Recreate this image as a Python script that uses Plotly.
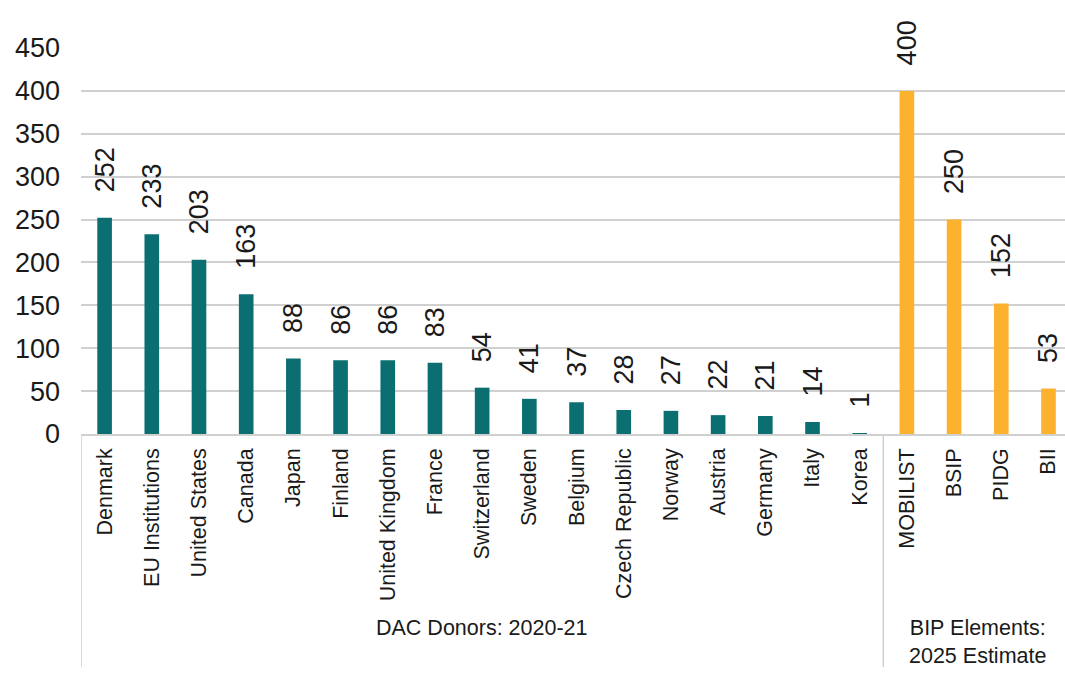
import plotly.graph_objects as go

categories = ["Denmark", "EU Institutions", "United States", "Canada", "Japan", "Finland",
              "United Kingdom", "France", "Switzerland", "Sweden", "Belgium", "Czech Republic",
              "Norway", "Austria", "Germany", "Italy", "Korea",
              "MOBILIST", "BSIP", "PIDG", "BII"]
values = [252, 233, 203, 163, 88, 86, 86, 83, 54, 41, 37, 28, 27, 22, 21, 14, 1,
          400, 250, 152, 53]
groups = ["DAC Donors: 2020-21"] * 17 + ["BIP Elements:<br>2025 Estimate"] * 4
group_colors = {"DAC Donors: 2020-21": "#0B6E70", "BIP Elements:<br>2025 Estimate": "#FDB22E"}
y_ticks = [0, 50, 100, 150, 200, 250, 300, 350, 400, 450]

FONT = "Liberation Sans, Arial, sans-serif"
TXT = "#1a1a1a"
LINE = "#D0D0D0"

colors = [group_colors[g] for g in groups]
pad = "\u00a0\u00a0\u00a0"

fig = go.Figure(go.Bar(
    x=list(range(len(categories))),
    y=values,
    marker=dict(color=colors, line=dict(width=0)),
    width=0.31,
    text=[pad + str(v) for v in values],
    textposition="outside",
    textangle=-90,
    constraintext="none",
    cliponaxis=False,
    textfont=dict(family=FONT, size=27, color=TXT),
    hoverinfo="skip",
))

fig.update_layout(
    width=1065, height=673,
    margin=dict(l=81, r=0, t=48, b=239),
    paper_bgcolor="white", plot_bgcolor="white",
    showlegend=False,
    font=dict(family=FONT, color=TXT),
)
fig.update_xaxes(
    range=[-0.5, 20.35],
    tickmode="array", tickvals=list(range(len(categories))), ticktext=categories,
    tickangle=-90, tickfont=dict(family=FONT, size=21.5, color=TXT),
    showgrid=False, zeroline=False, showline=True, linecolor=LINE, linewidth=1.5,
    ticks="", ticklabelstandoff=4,
)
fig.update_yaxes(
    range=[0, 450], tickvals=y_ticks,
    tickfont=dict(family=FONT, size=27, color=TXT),
    showgrid=True, gridcolor=LINE, gridwidth=1.5,
    zeroline=False, showline=False, ticks="", ticklabelstandoff=20,
)

# group separators and group labels
group_names = list(dict.fromkeys(groups))
start = 0
for i, g in enumerate(group_names):
    n = groups.count(g)
    fig.add_shape(type="line", xref="x", yref="paper", x0=start - 0.5, x1=start - 0.5,
                  y0=0, y1=-0.604, line=dict(color=LINE, width=1.5))
    cx = start + (n - 1) / 2 if i == 0 else start + n / 2 - 0.5
    fig.add_annotation(x=cx, xref="x", yref="paper", y=-0.466, yanchor="top",
                       text=g, showarrow=False, align="center",
                       font=dict(family=FONT, size=21.5, color=TXT))
    start += n

fig.write_html("out.html")
